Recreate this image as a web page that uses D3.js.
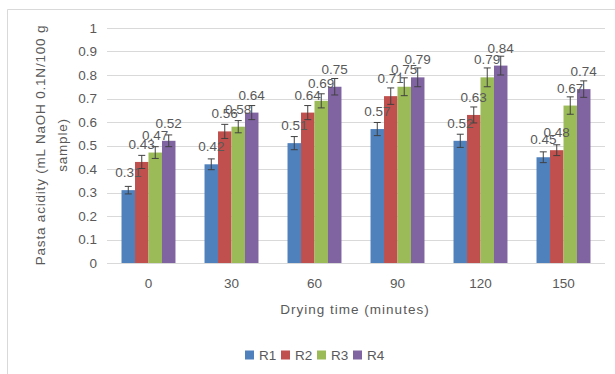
<!DOCTYPE html>
<html>
<head>
<meta charset="utf-8">
<script src="https://cdn.jsdelivr.net/npm/d3@7"></script>
<style>
  body { margin: 0; background: #fff; }
  svg text { font-family: "Liberation Sans", Arial, sans-serif; fill: #595959; }
</style>
</head>
<body>
<svg id="chart" width="615" height="374"></svg>
<script>
// data
const categories = ["0", "30", "60", "90", "120", "150"];
const seriesNames = ["R1", "R2", "R3", "R4"];
const seriesColors = ["#4F81BD", "#C0504D", "#9BBB59", "#8064A2"];
const r1 = [0.31, 0.42, 0.51, 0.57, 0.52, 0.45];
const r2 = [0.43, 0.56, 0.64, 0.71, 0.63, 0.48];
const r3 = [0.47, 0.58, 0.69, 0.75, 0.79, 0.67];
const r4 = [0.52, 0.64, 0.75, 0.79, 0.84, 0.74];
const e1 = [0.016, 0.023, 0.028, 0.028, 0.028, 0.023];
const e2 = [0.028, 0.030, 0.030, 0.035, 0.034, 0.023];
const e3 = [0.025, 0.026, 0.030, 0.038, 0.040, 0.037];
const e4 = [0.025, 0.030, 0.035, 0.040, 0.040, 0.035];
const yTicks = [0, 0.1, 0.2, 0.3, 0.4, 0.5, 0.6, 0.7, 0.8, 0.9, 1];

const values = [r1, r2, r3, r4];
const errors = [e1, e2, e3, e4];

const svg = d3.select("#chart");

// outer frame (only top and left edges are visible)
svg.append("line").attr("x1", 7.5).attr("y1", 9.5).attr("x2", 615).attr("y2", 9.5)
    .attr("stroke", "#D9D9D9");
svg.append("line").attr("x1", 7.5).attr("y1", 9.5).attr("x2", 7.5).attr("y2", 374)
    .attr("stroke", "#D9D9D9");

const plot = {left: 107, right: 605, top: 28, bottom: 263};

const x0 = d3.scaleBand().domain(categories).range([plot.left, plot.right]).paddingInner(0).paddingOuter(0);
const groupWidth = x0.bandwidth() * 0.65;
const x1 = d3.scaleBand().domain(seriesNames).range([0, groupWidth]).padding(0);
const y = d3.scaleLinear().domain([0, 1]).range([plot.bottom, plot.top]);

// gridlines
svg.append("g").selectAll("line").data(yTicks).join("line")
    .attr("x1", plot.left).attr("x2", plot.right)
    .attr("y1", d => Math.round(y(d)) + 0.5).attr("y2", d => Math.round(y(d)) + 0.5)
    .attr("stroke", "#D9D9D9").attr("stroke-width", 1);

// y tick labels
svg.append("g").selectAll("text").data(yTicks).join("text")
    .attr("x", 97).attr("y", d => y(d)).attr("dy", "0.35em")
    .attr("text-anchor", "end").attr("font-size", 13.5)
    .text(d => d3.format("~g")(d));

// x tick labels
svg.append("g").selectAll("text").data(categories).join("text")
    .attr("x", d => x0(d) + x0.bandwidth() / 2).attr("y", 288)
    .attr("text-anchor", "middle").attr("font-size", 13.5)
    .text(d => d);

// bars
const groups = svg.append("g").selectAll("g").data(categories).join("g")
    .attr("transform", d => `translate(${x0(d) + (x0.bandwidth() - groupWidth) / 2},0)`);

seriesNames.forEach((s, si) => {
    groups.append("rect")
        .attr("x", x1(s))
        .attr("width", x1.bandwidth())
        .attr("y", (d, i) => y(values[si][i]))
        .attr("height", (d, i) => y(0) - y(values[si][i]))
        .attr("fill", seriesColors[si]);
});

// error bars
seriesNames.forEach((s, si) => {
    const cx = x1(s) + x1.bandwidth() / 2;
    groups.append("line")
        .attr("x1", cx).attr("x2", cx)
        .attr("y1", (d, i) => y(values[si][i] + errors[si][i]))
        .attr("y2", (d, i) => y(values[si][i] - errors[si][i]))
        .attr("stroke", "#404040").attr("stroke-width", 1);
    [1, -1].forEach(sign => {
        groups.append("line")
            .attr("x1", cx - 3.5).attr("x2", cx + 3.5)
            .attr("y1", (d, i) => y(values[si][i] + sign * errors[si][i]))
            .attr("y2", (d, i) => y(values[si][i] + sign * errors[si][i]))
            .attr("stroke", "#404040").attr("stroke-width", 1);
    });
});

// data labels
seriesNames.forEach((s, si) => {
    groups.append("text")
        .attr("x", x1(s) + x1.bandwidth() / 2)
        .attr("y", (d, i) => y(values[si][i]) - 13)
        .attr("text-anchor", "middle").attr("font-size", 13.5)
        .text((d, i) => values[si][i]);
});

// axis titles
svg.append("text")
    .attr("x", 355).attr("y", 314)
    .attr("text-anchor", "middle").attr("font-size", 13.5)
    .attr("letter-spacing", 1)
    .text("Drying time (minutes)");

const yTitle = svg.append("text")
    .attr("transform", "translate(40,145) rotate(-90)")
    .attr("text-anchor", "middle").attr("font-size", 13.5)
    .attr("letter-spacing", 0.8);
yTitle.append("tspan").attr("x", 0).attr("y", 0).attr("dy", "0.35em")
    .text("Pasta acidity (mL NaOH 0.1N/100 g");
yTitle.append("tspan").attr("x", 0).attr("y", 22).attr("dy", "0.35em")
    .text("sample)");

// legend
const legendX = [245, 281, 317, 353];
const legend = svg.append("g").selectAll("g").data(seriesNames).join("g")
    .attr("transform", (d, i) => `translate(${legendX[i]},355)`);
legend.append("rect").attr("x", 0).attr("y", -4.5).attr("width", 9).attr("height", 9)
    .attr("fill", (d, i) => seriesColors[i]);
legend.append("text").attr("x", 14).attr("y", 0).attr("dy", "0.35em")
    .attr("font-size", 13.5).text(d => d);
</script>
</body>
</html>
